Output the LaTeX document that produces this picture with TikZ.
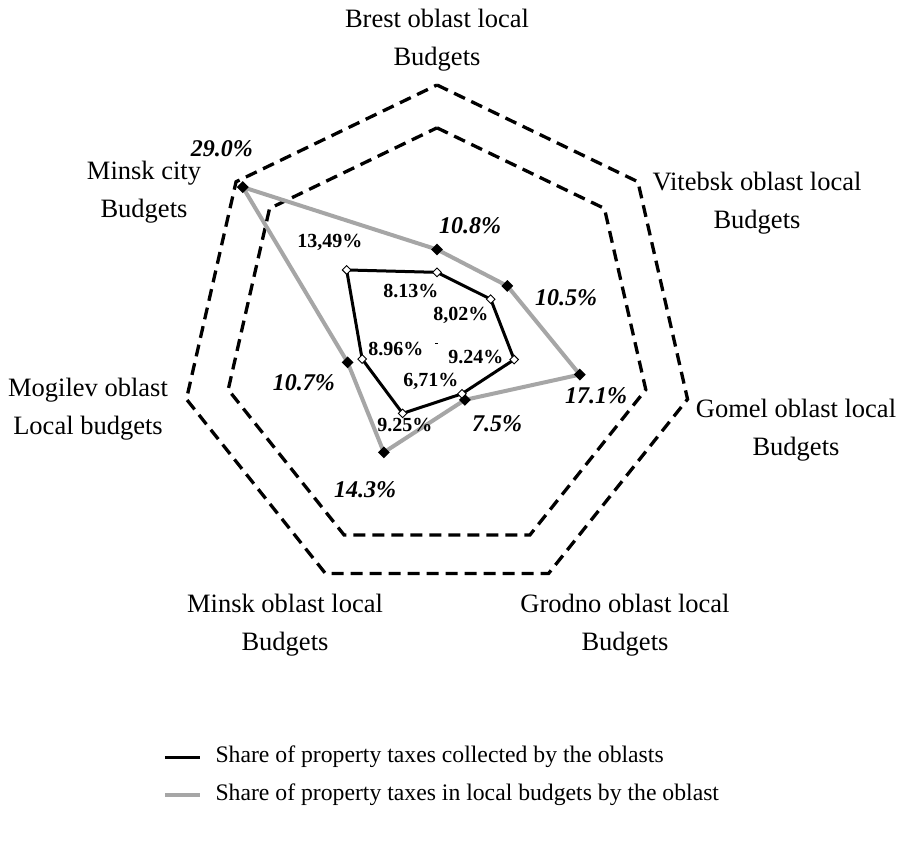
\documentclass[tikz,border=0pt]{standalone}
\usepackage{fontspec}
\setmainfont{Liberation Serif}
\usetikzlibrary{calc}
\usetikzlibrary{shapes.geometric}
\definecolor{grey}{HTML}{A6A6A6}
\def\unit{8.567}

\tikzset{
  grid/.style={black, line width=3.3pt, dash pattern=on 12pt off 7pt},
  budgetline/.style={grey, line width=4pt, line join=round},
  collectline/.style={black, line width=3pt, line join=round},
  budgetmark/.style={diamond, fill=black, inner sep=0pt, minimum size=12pt},
  collectmark/.style={diamond, draw=black, fill=white, line width=0.9pt, inner sep=0pt, minimum size=9pt},
  budgetlabel/.style={font=\fontsize{24}{28}\selectfont\bfseries\itshape},
  collectlabel/.style={font=\fontsize{20}{24}\selectfont\bfseries},
  axislabel/.style={align=center, font=\fontsize{26.5}{38}\selectfont},
}

\begin{document}
\begin{tikzpicture}[x=1pt, y=1pt]
\useasboundingbox (-437, -505) rectangle (466, 342);
% chart centre
\coordinate (A) at (0, 0);
\fill (A) ++(-1.5, -1.5) rectangle ++(3, 1);

% grid heptagons (25% and 30%)
\draw[grid] ($(A)+(90:25*\unit)$) -- ($(A)+(38.571:25*\unit)$) -- ($(A)+(-12.857:25*\unit)$) -- ($(A)+(-64.286:25*\unit)$) -- ($(A)+(-115.714:25*\unit)$) -- ($(A)+(-167.143:25*\unit)$) -- ($(A)+(141.429:25*\unit)$) -- cycle;
\draw[grid] ($(A)+(90:30*\unit)$) -- ($(A)+(38.571:30*\unit)$) -- ($(A)+(-12.857:30*\unit)$) -- ($(A)+(-64.286:30*\unit)$) -- ($(A)+(-115.714:30*\unit)$) -- ($(A)+(-167.143:30*\unit)$) -- ($(A)+(141.429:30*\unit)$) -- cycle;

% share in local budgets
\coordinate (G1) at ($(A)+(90:10.8*\unit)$);
\coordinate (G2) at ($(A)+(38.571:10.5*\unit)$);
\coordinate (G3) at ($(A)+(-12.857:17.1*\unit)$);
\coordinate (G4) at ($(A)+(-64.286:7.5*\unit)$);
\coordinate (G5) at ($(A)+(-115.714:14.3*\unit)$);
\coordinate (G6) at ($(A)+(-167.143:10.7*\unit)$);
\coordinate (G7) at ($(A)+(141.429:29.0*\unit)$);
\draw[budgetline] (G1) -- (G2) -- (G3) -- (G4) -- (G5) -- (G6) -- (G7) -- cycle;
\node[budgetmark] (mG1) at (G1) {};
\node[budgetmark] (mG2) at (G2) {};
\node[budgetmark] (mG3) at (G3) {};
\node[budgetmark] (mG4) at (G4) {};
\node[budgetmark] (mG5) at (G5) {};
\node[budgetmark] (mG6) at (G6) {};
\node[budgetmark] (mG7) at (G7) {};

% share collected by the oblasts
\coordinate (K1) at ($(A)+(90:8.13*\unit)$);
\coordinate (K2) at ($(A)+(38.571:8.02*\unit)$);
\coordinate (K3) at ($(A)+(-12.857:9.24*\unit)$);
\coordinate (K4) at ($(A)+(-64.286:6.71*\unit)$);
\coordinate (K5) at ($(A)+(-115.714:9.25*\unit)$);
\coordinate (K6) at ($(A)+(-167.143:8.96*\unit)$);
\coordinate (K7) at ($(A)+(141.429:13.49*\unit)$);
\draw[collectline] (K1) -- (K2) -- (K3) -- (K4) -- (K5) -- (K6) -- (K7) -- cycle;
\node[collectmark] (mK1) at (K1) {};
\node[collectmark] (mK2) at (K2) {};
\node[collectmark] (mK3) at (K3) {};
\node[collectmark] (mK4) at (K4) {};
\node[collectmark] (mK5) at (K5) {};
\node[collectmark] (mK6) at (K6) {};
\node[collectmark] (mK7) at (K7) {};

% value labels
\node[budgetlabel] (lG1) at ($(A)+(33, 116)$) {10.8\%};
\node[budgetlabel] (lG2) at ($(A)+(129, 44)$) {10.5\%};
\node[budgetlabel] (lG3) at ($(A)+(159, -54)$) {17.1\%};
\node[budgetlabel] (lG4) at ($(A)+(60, -82)$) {7.5\%};
\node[budgetlabel] (lG5) at ($(A)+(-72, -148)$) {14.3\%};
\node[budgetlabel] (lG6) at ($(A)+(-133, -41)$) {10.7\%};
\node[budgetlabel] (lG7) at ($(A)+(-215, 193)$) {29.0\%};
\node[collectlabel] (lK1) at ($(A)+(-26, 51)$) {8.13\%};
\node[collectlabel] (lK2) at ($(A)+(24, 27)$) {8,02\%};
\node[collectlabel] (lK3) at ($(A)+(39, -15)$) {9.24\%};
\node[collectlabel] (lK4) at ($(A)+(-6, -39)$) {6,71\%};
\node[collectlabel] (lK5) at ($(A)+(-32, -83)$) {9.25\%};
\node[collectlabel] (lK6) at ($(A)+(-41, -7)$) {8.96\%};
\node[collectlabel] (lK7) at ($(A)+(-107, 100)$) {13,49\%};

% axis names
\node[axislabel] (brest) at ($(A)+(0, 302)$) {Brest oblast local\\Budgets};
\node[axislabel] (vitebsk) at ($(A)+(320, 139)$) {Vitebsk oblast local\\Budgets};
\node[axislabel] (gomel) at ($(A)+(359, -88)$) {Gomel oblast local\\Budgets};
\node[axislabel] (grodno) at ($(A)+(188, -283)$) {Grodno oblast local\\Budgets};
\node[axislabel] (minskobl) at ($(A)+(-152, -283)$) {Minsk oblast local\\Budgets};
\node[axislabel] (mogilev) at ($(A)+(-349, -67)$) {Mogilev oblast\\Local budgets};
\node[axislabel] (minskcity) at ($(A)+(-293, 150)$) {Minsk city\\Budgets};

% legend
\coordinate (L1a) at ($(A)+(-272, -415)$);
\coordinate (L1b) at ($(A)+(-237, -415)$);
\coordinate (L2a) at ($(A)+(-272, -453)$);
\coordinate (L2b) at ($(A)+(-237, -453)$);
\draw[collectline] (L1a) -- (L1b);
\draw[budgetline] (L2a) -- (L2b);
\node[anchor=west, font=\fontsize{23.7}{28}\selectfont] (leg1) at ($(A)+(-225, -415)$) {Share of property taxes collected by the oblasts};
\node[anchor=west, font=\fontsize{23.7}{28}\selectfont] (leg2) at ($(A)+(-225, -453)$) {Share of property taxes in local budgets by the oblast};
\end{tikzpicture}
\end{document}
